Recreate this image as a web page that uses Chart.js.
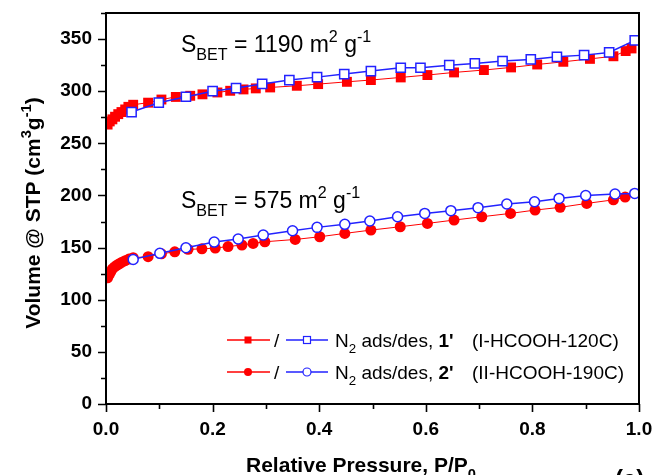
<!DOCTYPE html>
<html><head><meta charset="utf-8">
<script src="https://cdn.jsdelivr.net/npm/chart.js@4.4.1/dist/chart.umd.min.js"></script>
<style>html,body{margin:0;padding:0;background:#fff;}#wrap{width:655px;height:475px;position:relative;}</style>
</head><body><div id="wrap"><canvas id="c" width="655" height="475"></canvas></div>
<script>
// ---- data ----
const ads1X = [0.003,0.007,0.012,0.017,0.023,0.029,0.036,0.042,0.051,0.079,0.104,0.131,0.158,0.181,0.209,0.233,0.258,0.281,0.308,0.358,0.398,0.452,0.497,0.553,0.603,0.653,0.709,0.760,0.809,0.858,0.908,0.952,0.975,0.986];
const ads1Y = [268,271,273,275.5,278,280,282.5,285,287,289,292,294.5,295.6,297,298.8,300.4,301.7,302.7,303.6,305.2,306.8,309,310.7,313.2,315.5,318,320.3,322.8,325.6,328.2,331,333.5,338.5,341];
const des1X = [0.048,0.099,0.150,0.200,0.244,0.293,0.344,0.396,0.447,0.497,0.553,0.590,0.644,0.692,0.744,0.797,0.846,0.897,0.944,0.992];
const des1Y = [280,289,294.7,300,303,307,310.7,313.5,316.4,319.3,322.5,322.5,325,326.6,328.9,330.5,333,334.6,337.2,348.7];
const ads2X = [0.003,0.006,0.009,0.012,0.016,0.020,0.025,0.030,0.036,0.043,0.051,0.079,0.104,0.129,0.154,0.180,0.205,0.229,0.255,0.276,0.298,0.355,0.401,0.448,0.497,0.552,0.603,0.653,0.705,0.759,0.805,0.852,0.902,0.952,0.974];
const ads2Y = [121,124,127,129.5,131.5,133,134.5,136,137.5,139,140.3,141.3,144,146,148.3,148.8,149.5,151,152.5,154,155.6,157.8,160.4,163.6,166.8,170,173.2,176.4,179.6,182.8,186,188.6,192.4,195.8,198.5];
const des2X = [0.051,0.101,0.150,0.203,0.248,0.295,0.350,0.396,0.448,0.495,0.547,0.598,0.647,0.698,0.752,0.804,0.850,0.900,0.955,0.992];
const des2Y = [138.7,144.5,149.9,155.3,158.2,162,166.2,169.4,172.3,175.5,179.6,182.8,185.4,188.3,191.8,194,197.2,200,201.4,202];

const xTickValues = [0,0.2,0.4,0.6,0.8,1.0];
const xTickLabels = ['0.0','0.2','0.4','0.6','0.8','1.0'];
const yTickValues = [0,50,100,150,200,250,300,350];
const yTickLabels = ['0','50','100','150','200','250','300','350'];
const seriesNames = ["1'", "2'"];
const seriesNotes = ['(I-HCOOH-120C)', '(II-HCOOH-190C)'];
const bet = ['1190', '575'];

const RED = '#ff0000', BLUE = '#2222ff';
const FONT = '"Liberation Sans", Arial, Helvetica, sans-serif';

function pts(xs, ys){ return xs.map((x,i)=>({x:x, y:ys[i]})); }
function labelFor(vals, labs, v){ const i = vals.findIndex(t=>Math.abs(t-v)<1e-6); return i>=0?labs[i]:''; }

// rich text: segs = [[text, mode('n'|'sub'|'sup'), bold]]
function richWidth(ctx, segs, size){
  let w=0;
  for(const [t,m,b] of segs){
    const s = m==='n'?size:size*0.7;
    ctx.font = (b?'bold ':'')+s+'px '+FONT;
    w += ctx.measureText(t).width;
  }
  return w;
}
function drawRich(ctx, segs, x, y, size, align){
  let w = richWidth(ctx, segs, size);
  let cx = align==='center' ? x - w/2 : x;
  ctx.textBaseline='alphabetic'; ctx.textAlign='left';
  for(const [t,m,b] of segs){
    const s = m==='n'?size:size*0.7;
    ctx.font = (b?'bold ':'')+s+'px '+FONT;
    const dy = m==='sub'? size*0.33 : (m==='sup'? -size*0.42 : 0);
    ctx.fillText(t, cx, y+dy);
    cx += ctx.measureText(t).width;
  }
}
function noPad(s){ s.paddingTop=0; s.paddingBottom=0; s.paddingLeft=0; s.paddingRight=0; }

const deco = {
  id:'deco',
  afterDraw(chart){
    const ctx = chart.ctx, a = chart.chartArea;
    const xs = chart.scales.x, ys = chart.scales.y;
    ctx.save();
    ctx.fillStyle='#000'; ctx.strokeStyle='#000';
    // frame
    ctx.lineWidth = 2;
    ctx.strokeRect(a.left, a.top, a.right-a.left, a.bottom-a.top);
    // ticks
    ctx.lineWidth = 1.6;
    ctx.beginPath();
    for(let i=0;i<=10;i++){
      const v=i/10, px=Math.round(xs.getPixelForValue(v))+0.5;
      const len = (i%2===0)?8:5;
      ctx.moveTo(px, a.bottom); ctx.lineTo(px, a.bottom+len);
    }
    for(let v=0; v<=375; v+=25){
      const py=Math.round(ys.getPixelForValue(v))+0.5;
      const len = (v%50===0)?8:5;
      ctx.moveTo(a.left, py); ctx.lineTo(a.left-len, py);
    }
    ctx.stroke();

    // S_BET annotations
    drawRich(ctx, [['S','n'],['BET','sub'],[' = '+bet[0]+' m','n'],['2','sup'],[' g','n'],['-1','sup']], 181, 52, 23, 'left');
    drawRich(ctx, [['S','n'],['BET','sub'],[' = '+bet[1]+' m','n'],['2','sup'],[' g','n'],['-1','sup']], 181, 208, 23, 'left');

    // legend
    const rows = [{y:340, shape:'rect'}, {y:372, shape:'circle'}];
    rows.forEach((r, i)=>{
      ctx.lineWidth=1.3;
      ctx.strokeStyle=RED; ctx.beginPath(); ctx.moveTo(227,r.y); ctx.lineTo(270,r.y); ctx.stroke();
      ctx.strokeStyle=BLUE; ctx.beginPath(); ctx.moveTo(286,r.y); ctx.lineTo(328,r.y); ctx.stroke();
      ctx.fillStyle=RED;
      if(r.shape==='rect'){ ctx.fillRect(244.5,r.y-3.5,7,7); }
      else { ctx.beginPath(); ctx.arc(248,r.y,4,0,Math.PI*2); ctx.fill(); }
      ctx.fillStyle='#fff'; ctx.strokeStyle=BLUE; ctx.lineWidth=1.2;
      if(r.shape==='rect'){ ctx.fillRect(303.5,r.y-3.5,7,7); ctx.strokeRect(303.5,r.y-3.5,7,7); }
      else { ctx.beginPath(); ctx.arc(307,r.y,4,0,Math.PI*2); ctx.fill(); ctx.stroke(); }
      ctx.fillStyle='#000';
      ctx.font='19px '+FONT; ctx.textAlign='left'; ctx.textBaseline='alphabetic';
      ctx.fillText('/', 274, r.y+7);
      drawRich(ctx, [['N','n'],['2','sub'],[' ads/des, ','n'],[seriesNames[i],'n',true]], 335, r.y+7, 19, 'left');
      ctx.font='19px '+FONT; ctx.textAlign='left';
      ctx.fillText(seriesNotes[i], 472, r.y+7);
    });

    // axis titles
    ctx.fillStyle='#000';
    drawRich(ctx, [['Relative Pressure, P/P','n',true],['0','sub',true]], 361, 472, 21, 'center');
    ctx.save();
    ctx.translate(40, 213); ctx.rotate(-Math.PI/2);
    drawRich(ctx, [['Volume @ STP (cm','n',true],['3','sup',true],['g','n',true],['-1','sup',true],[')','n',true]], 0, 0, 21, 'center');
    ctx.restore();
    // panel label
    ctx.font='bold 24px '+FONT; ctx.textAlign='left'; ctx.textBaseline='alphabetic';
    ctx.fillText('(a)', 615, 487);
    ctx.restore();
  }
};

new Chart(document.getElementById('c'), {
  type:'scatter',
  data:{ datasets:[
    {label:"des 1'", data:pts(des1X,des1Y), showLine:true, borderColor:BLUE, borderWidth:1.5, pointStyle:'rect', pointRadius:6.5, pointBackgroundColor:'#fff', pointBorderColor:BLUE, pointBorderWidth:1.5, tension:0},
    {label:"des 2'", data:pts(des2X,des2Y), showLine:true, borderColor:BLUE, borderWidth:1.5, pointStyle:'circle', pointRadius:5, pointBackgroundColor:'#fff', pointBorderColor:BLUE, pointBorderWidth:1.5, tension:0},
    {label:"ads 1'", data:pts(ads1X,ads1Y), showLine:true, borderColor:RED, borderWidth:1, pointStyle:'rect', pointRadius:7, pointBackgroundColor:RED, pointBorderColor:RED, pointBorderWidth:0, tension:0},
    {label:"ads 2'", data:pts(ads2X,ads2Y), showLine:true, borderColor:RED, borderWidth:1, pointStyle:'circle', pointRadius:5.5, pointBackgroundColor:RED, pointBorderColor:RED, pointBorderWidth:0, tension:0}
  ]},
  options:{
    responsive:false, animation:false, devicePixelRatio:1,
    layout:{padding:{left:0, top:13, right:16, bottom:0}},
    plugins:{legend:{display:false}, tooltip:{enabled:false}},
    scales:{
      x:{type:'linear', min:0, max:1,
        afterFit(s){ s.height = 71; noPad(s); },
        grid:{drawOnChartArea:false, drawTicks:false},
        border:{display:true, color:'#000', width:2},
        ticks:{stepSize:0.1, autoSkip:false, maxRotation:0, padding:14, color:'#000',
          font:{family:FONT, size:19, weight:'bold'},
          callback:(v)=>labelFor(xTickValues,xTickLabels,v)}
      },
      y:{type:'linear', min:0, max:375,
        afterFit(s){ s.width = 106; noPad(s); },
        grid:{drawOnChartArea:false, drawTicks:false},
        border:{display:true, color:'#000', width:2},
        ticks:{stepSize:25, autoSkip:false, padding:14, color:'#000',
          font:{family:FONT, size:19, weight:'bold'},
          callback:(v)=>labelFor(yTickValues,yTickLabels,v)}
      }
    }
  },
  plugins:[deco]
});
</script></body></html>
